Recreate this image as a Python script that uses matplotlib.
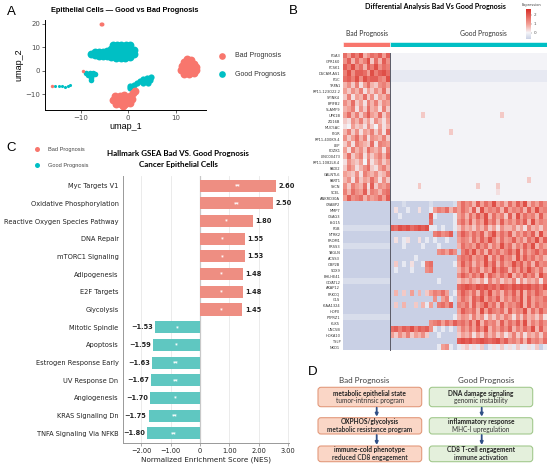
import matplotlib
matplotlib.use("Agg")
import numpy as np
import matplotlib.pyplot as plt
from matplotlib.colors import LinearSegmentedColormap, Normalize
from matplotlib.cm import ScalarMappable
from matplotlib.patches import FancyBboxPatch

W, H = 550, 471
RED = "#F8766D"
CYAN = "#00BFC4"
BAR_RED = "#EE8E82"
BAR_CYAN = "#5FC7C1"

# ---- A: UMAP embedding, point positions ----
good_main = [(-7.8, 7.2), (-7.0, 6.6), (-7.0, 8.0), (-6.1, 6.5), (-6.1, 8.1), (-5.2, 6.4),
             (-5.2, 8.2), (-4.4, 6.5), (-4.4, 8.4), (-3.6, 5.9), (-3.6, 7.7), (-3.6, 9.5),
             (-3.2, 10.8), (-2.6, 5.6), (-2.6, 7.5), (-2.6, 9.4), (-2.4, 11.0), (-1.6, 5.5),
             (-1.6, 7.4), (-1.6, 9.3), (-1.4, 11.1), (-0.6, 5.6), (-0.6, 7.5), (-0.6, 9.4),
             (-0.4, 11.2), (0.4, 5.9), (0.4, 7.7), (0.4, 9.5), (0.5, 10.8), (1.2, 7.2), (1.2, 8.8)]
good_left = [(-8.9, -1.0), (-8.1, -0.9), (-7.3, -1.1), (-6.9, -1.5), (-8.5, -1.9),
             (-7.6, -2.0), (-7.9, -3.0), (-7.8, -3.8)]
good_strip = [(-15.3, -6.7), (-14.6, -6.5), (-13.9, -6.6), (-13.3, -6.8), (-12.7, -6.5), (-12.2, -5.9)]
good_lower = [(4.8, -2.6), (3.9, -2.9), (3.1, -3.4), (4.6, -3.9), (3.6, -4.4), (2.6, -4.4),
              (4.2, -5.2), (1.9, -5.2), (1.2, -6.0), (0.5, -6.6), (0.3, -7.2), (3.2, -5.4)]
bad_tip = [(-5.8, 20.2), (-5.4, 19.9)]
bad_right = [(12.4, 5.2), (13.2, 4.6), (11.8, 3.6), (12.8, 3.4), (13.9, 3.0), (11.3, 2.0),
             (12.3, 1.8), (13.3, 1.7), (14.2, 1.5), (11.2, 0.3), (12.2, 0.0), (13.2, 0.1),
             (14.2, 0.2), (11.8, -1.2), (12.8, -1.3), (13.8, -1.1)]
bad_bottom = [(1.4, -8.5), (1.0, -9.6), (-2.8, -11.0), (-1.8, -10.6), (-0.8, -10.5), (0.3, -10.8),
              (-3.2, -12.6), (-2.2, -12.5), (-1.2, -12.4), (-0.2, -12.5), (0.9, -12.3),
              (-2.6, -14.2), (-1.6, -14.4), (-0.6, -14.3), (0.4, -14.0), (-1.0, -15.2)]
bad_small = [(-9.5, -0.2), (-16.0, -6.6)]

# ---- B: heatmap, 50 genes x (12 bad + 40 good) column bins ----
genes_bad_up = ["PGA3", "GPR160", "PCSK1", "DSCAM-AS1", "PGC", "TRPA1", "RP11-123O22.2", "SPINK4",
                "BPIFB2", "SLAMF9", "UPK1B", "ZG16B", "MUC5AC", "PIGR", "RP11-400K9.4", "LEP",
                "PDZK1", "LINC00473", "RP11-1082L8.4", "PADI2", "GALNTL6", "PART1", "SYCN",
                "SCEL", "ANKRD30A"]
genes_good_up = ["CRABP2", "MMP7", "CSAG3", "ISG15", "FGB", "NTRK2", "PROM1", "PRSS3", "TAGLN",
                 "ACSS3", "OBP2B", "SOX9", "BHLHE41", "GLYATL2", "AKAP12", "PRKCQ", "GLS",
                 "KIAA1324", "HOPX", "PTPRZ1", "KLK5", "UNC5B", "HOXA10", "TSLP", "NKD1"]
n_bad_cols, n_good_cols = 12, 40
# '.' ',' ':' below zero, '0' zero, digits d -> d*0.24
heat_rows = [
    "7486 9357 6848 | 0000000000 0000000000 0000000000 0000000000",
    "5837 4692 7385 | 0000000000 0000000000 0000000000 0000000000",
    "8695 7386 9576 | 0000000000 0000000000 0000000000 0000000000",
    "6958 8749 6897 | :::::::::: :::::::::: :::::::::: ::::::::::",
    "7869 5978 8659 | :::::::::: :::::::::: :::::::::: ::::::::::",
    "3526 1473 2564 | 0000000000 0000000000 0000000000 0000000000",
    "4253 6142 5372 | 0000000000 0000000000 0000000000 0000000000",
    "2614 3725 1436 | 0000000000 0000000000 0000000000 0000000000",
    "5372 4163 6254 | 0000000000 0000000000 0000000000 0000000000",
    "3461 5273 4162 | 0000000000 0000000000 0000000000 0000000000",
    "4736 2584 3725 | 0000000020 0000000000 0000000020 0000000000",
    "2153 6241 5314 | 0000000000 0000000000 0000000000 0000000000",
    "1042 3152 0413 | 0000000000 0000000000 0000000000 0000000000",
    "3625 1436 2517 | 0000000000 0000020000 0000000000 0000000000",
    "5247 3615 4362 | 0000000000 0000000000 0000000000 0000000000",
    "2516 4327 1654 | 0000000000 0000000000 0000000000 0000000000",
    "4163 5274 3516 | 0000000000 0000000000 0000000000 0000000000",
    "3724 6152 4637 | 0000000000 0000000000 0000000000 0000000000",
    "1532 4061 3524 | 0000000000 0000000000 0000000000 0000000000",
    "2641 3572 1463 | 0000000000 0000000000 0000000000 0000000000",
    "4325 1643 5236 | 0000000000 0000000000 0000000000 0000000000",
    "3516 2437 4152 | 0000000000 0000000000 0000000000 0000020000",
    "5264 3718 2546 | 0000000200 0000000000 0020000200 0000000000",
    "6375 4826 5367 | 0000000000 0000000000 0000000100 0000000000",
    "4856 7364 5748 | 0000000000 0000000000 0000000000 0000000000",
    ".... .... .... | ...,...... ,.....,475 6384759463 7485936475",
    ".... .... .... | .1..:..1.. :465736475 3829465738 4657384956",
    ".... .... .... | ..:....... 8:....:463 7485937462 8394756384",
    ".... .... .... | .......... 7.....:574 8364957384 6475839465",
    ",,,, ,,,, ,,,, | 8798978989 ::.:..:253 4253624153 3524163425",
    ".... .... .... | .......... .67568.586 4758369475 8364758394",
    ".... .... .... | .1.:1..1.: .:..:..465 3748596374 5846375948",
    ",,,, ,,,, ,,,, | ...:....:. ..:....375 6485736495 7364859364",
    ".... .... .... | .......... ..56475.68 5947385746 8593746857",
    ".... .... .... | ......:... .......576 8465937485 6394857463",
    ".... .... .... | .2.:.1..:6 7.....:485 7364958374 5968473856",
    ".... .... .... | .:...:...5 6......364 8573649587 3748596473",
    ".... .... .... | .......... .......586 4759386475 9364857396",
    ",,,, ,,,, ,,,, | .......... ..:....243 5324163524 3615243516",
    ".... .... .... | .......... .......789 8798978698 7989897869",
    ".... .... .... | .3.2.4.3.2 46574.:586 4738594637 5849375864",
    ".... .... .... | .......... .5.46:.475 3869475836 4759384657",
    ".... .... .... | .2.3..2.3: 4.6758.657 3846957384 6579384756",
    ".... .... .... | .......... .......486 5739486573 8465937485",
    ",,,, ,,,, ,,,, | .......... ......:354 2635142536 4152634251",
    ".... .... .... | .......... 5674758675 8493756384 7584936475",
    ".... .... .... | 7868796878 5:.:.:.364 7485936475 8364759384",
    ".... .... .... | 4253624352 ..:....243 5142635241 3625143526",
    ".... .... .... | .......... .......898 9789878968 5647385647",
    ".... .... .... | .......... ..:45:.:12 :1:2.:1:2: 1:2::1:2.:",
]
level_codes = {".": -0.7, ",": -0.45, ":": -0.2}

# ---- C: Hallmark GSEA ----
pathways = ["Myc Targets V1", "Oxidative Phosphorylation", "Reactive Oxygen Species Pathway",
            "DNA Repair", "mTORC1 Signaling", "Adipogenesis", "E2F Targets", "Glycolysis",
            "Mitotic Spindle", "Apoptosis", "Estrogen Response Early", "UV Response Dn",
            "Angiogenesis", "KRAS Signaling Dn", "TNFA Signaling Via NFKB"]
nes = [2.60, 2.50, 1.80, 1.55, 1.53, 1.48, 1.48, 1.45,
       -1.53, -1.59, -1.63, -1.67, -1.70, -1.75, -1.80]
signif = ["**", "**", "*", "*", "*", "*", "*", "*", "*", "*", "**", "**", "*", "**", "**"]
nes_ticks = [-2, -1, 0, 1, 2, 3]
nes_tick_labels = ["\u22122.00", "\u22121.00", "0", "1.00", "2.00", "3.00"]

# ---- D: schematic ----
bad_steps = [("metabolic epithelial state", "tumor-intrinsic program", False),
             ("OXPHOS/glycolysis", "metabolic resistance program", True),
             ("immune-cold phenotype", "reduced CD8 engagement", True)]
good_steps = [("DNA damage signaling", "genomic instability", False),
              ("inflammatory response", "MHC-I upregulation", False),
              ("CD8 T-cell engagement", "immune activation", True)]


def rect(x0, y0, x1, y1):
    return [x0 / W, 1 - y1 / H, (x1 - x0) / W, (y1 - y0) / H]


fig = plt.figure(figsize=(5.5, 4.71), dpi=100)

# ================= A =================
axA = fig.add_axes(rect(45, 20, 206, 110))
for pts, col, s in [(good_main, CYAN, 32), (good_left, CYAN, 16), (good_strip, CYAN, 5),
                    (good_lower, CYAN, 20), (bad_tip, RED, 8), (bad_right, RED, 32),
                    (bad_bottom, RED, 32), (bad_small, RED, 6)]:
    xs, ys = zip(*pts)
    axA.scatter(xs, ys, s=s, color=col, linewidths=0)
axA.set_xlim(-17.5, 16.4)
axA.set_ylim(-16.8, 21.7)
axA.set_xticks([-10, 0, 10])
axA.set_yticks([-10, 0, 10, 20])
for sp in ("top", "right"):
    axA.spines[sp].set_visible(False)
for sp in ("left", "bottom"):
    axA.spines[sp].set_linewidth(0.7)
axA.tick_params(labelsize=5, colors="#4d4d4d", length=2, width=0.6, pad=1.5)
axA.set_xlabel("umap_1", fontsize=6.5, family="Liberation Sans", labelpad=1)
axA.set_ylabel("umap_2", fontsize=6.5, family="Liberation Sans", labelpad=1)

# ================= B =================
mat = []
for row in heat_rows:
    chars = row.replace(" ", "").replace("|", "")
    assert len(chars) == n_bad_cols + n_good_cols, row
    mat.append([level_codes[c] if c in level_codes else int(c) * 0.24 for c in chars])
mat = np.array(mat)

cmap = LinearSegmentedColormap.from_list(
    "expr", [(0.0, "#c7cfe4"), (0.222, "#f4f4f8"), (0.5, "#f3a197"), (1.0, "#d8302a")])
norm = Normalize(vmin=-0.75, vmax=2.63)

axB = fig.add_axes(rect(343, 52.7, 546.7, 350.5))
ncols = n_bad_cols + n_good_cols
genes = genes_bad_up + genes_good_up
axB.imshow(mat, aspect="auto", cmap=cmap, norm=norm, interpolation="nearest",
           extent=(0, ncols, len(genes), 0))
axB.axvline(n_bad_cols, color="#5a5a66", lw=0.7)
axB.set_xticks([])
axB.set_yticks(np.arange(len(genes)) + 0.5)
axB.set_yticklabels(genes, fontsize=2.6, color="#333333")
axB.tick_params(axis="y", length=0, pad=2)
for sp in axB.spines.values():
    sp.set_visible(False)

axAnn = fig.add_axes(rect(343, 41.7, 546.7, 47.3))
axAnn.barh(0, n_bad_cols, color=RED, height=1, edgecolor="white", linewidth=0.4)
axAnn.barh(0, n_good_cols, left=n_bad_cols, color=CYAN, height=1, edgecolor="white", linewidth=0.4)
axAnn.set_xlim(0, ncols)
axAnn.set_ylim(-0.5, 0.5)
axAnn.axis("off")

axCb = fig.add_axes(rect(525.7, 9.3, 530.7, 39.3))
cb = fig.colorbar(ScalarMappable(norm=norm, cmap=cmap), cax=axCb)
cb.set_ticks([0, 1, 2])
cb.ax.tick_params(labelsize=3, length=1, width=0.3, pad=1, colors="#555555")
cb.outline.set_visible(False)

# ================= C =================
axC = fig.add_axes(rect(122.7, 175.7, 288.7, 443.3))
ypos = np.arange(len(pathways))
cols = [BAR_RED if v > 0 else BAR_CYAN for v in nes]
for t in nes_ticks:
    axC.axvline(t, color="#e8e8e8", lw=0.6, zorder=0)
axC.axvline(0, color="#c8c8c8", lw=0.9, zorder=1)
axC.barh(ypos, nes, height=0.68, color=cols, zorder=2)
for i, (v, s) in enumerate(zip(nes, signif)):
    axC.text(v / 2, i, s, color="white", fontsize=4, ha="center", va="center",
             fontweight="bold", zorder=3)
    if v > 0:
        axC.text(v + 0.08, i, f"{v:.2f}", ha="left", va="center", fontsize=4.8,
                 fontweight="bold", color="#222222")
    else:
        axC.text(v - 0.08, i, f"\u2212{abs(v):.2f}", ha="right", va="center", fontsize=4.8,
                 fontweight="bold", color="#222222")
axC.set_xlim(-2.64, 3.03)
axC.set_ylim(len(pathways) - 0.44, -0.56)
axC.set_yticks(ypos)
axC.set_yticklabels(pathways, fontsize=4.8, color="#222222")
axC.set_xticks(nes_ticks)
axC.set_xticklabels(nes_tick_labels, fontsize=4.8, color="#222222")
axC.tick_params(axis="y", length=0, pad=3)
axC.tick_params(axis="x", length=2, width=0.5, pad=1.5, color="#888888")
for sp in ("top", "right"):
    axC.spines[sp].set_visible(False)
for sp in ("left", "bottom"):
    axC.spines[sp].set_color("#999999")
    axC.spines[sp].set_linewidth(0.7)
axC.set_xlabel("Normalized Enrichment Score (NES)", fontsize=5.2, color="#222222", labelpad=2)

# ================= overlay: labels, legends, panel D =================
ov = fig.add_axes([0, 0, 1, 1])
ov.set_xlim(0, W)
ov.set_ylim(H, 0)
ov.axis("off")

for lab, x, y in [("A", 11, 12), ("B", 293, 11), ("C", 11, 148), ("D", 313, 372)]:
    ov.text(x, y, lab, fontsize=9.5, family="Liberation Sans", ha="center", va="center")

ov.text(125, 11, "Epithelial Cells \u2014 Good vs Bad Prognosis", fontsize=5.3,
        family="Liberation Sans", fontweight="bold", ha="center", va="center")
for y, col, lab in [(55.7, RED, "Bad Prognosis"), (74.3, CYAN, "Good Prognosis")]:
    ov.plot(221.7, y, "o", ms=4.8, color=col, mec="none")
    ov.text(235, y, lab, fontsize=5, family="Liberation Sans", color="#333333", va="center")

ov.text(435, 7, "Differential Analysis Bad Vs Good Prognosis", fontsize=5.1, family="Lato",
        fontweight="bold", ha="center", va="center")
ov.text(367, 33.5, "Bad Prognosis", fontsize=4.9, family="Lato", color="#333333",
        ha="center", va="center")
ov.text(483, 33.5, "Good Prognosis", fontsize=4.9, family="Lato", color="#333333",
        ha="center", va="center")
ov.text(531, 4.8, "Expression", fontsize=2.6, color="#444444", ha="center", va="center")

for y, col, lab in [(149, RED, "Bad Prognosis"), (165, CYAN, "Good Prognosis")]:
    ov.plot(37.3, y, "o", ms=3.6, color=col, mec="none")
    ov.text(48, y, lab, fontsize=4.1, family="Liberation Sans", color="#444444", va="center")
ov.text(178, 153.3, "Hallmark GSEA Bad VS. Good Prognosis", fontsize=5.8, family="Lato",
        fontweight="bold", ha="center", va="center")
ov.text(178, 164.3, "Cancer Epithelial Cells", fontsize=5.8, family="Lato",
        fontweight="bold", ha="center", va="center")

# panel D
box_rows = [(387.3, 406.7), (417.7, 434.0), (446.0, 461.7)]
columns = [(318.0, 421.7, "#fad6c6", "#e39a7c", bad_steps, "Bad Prognosis", 364, 376.7),
           (429.3, 532.7, "#e4f0dc", "#a3c98e", good_steps, "Good Prognosis", 486, 481.7)]
for x0, x1, fc, ec, steps, head, hx, ax_x in columns:
    ov.text(hx, 380.7, head, fontsize=5.8, family="Lato", color="#404040",
            ha="center", va="center")
    cx = (x0 + x1) / 2
    for (y0, y1), (l1, l2, bold2) in zip(box_rows, steps):
        ov.add_patch(FancyBboxPatch((x0, y0), x1 - x0, y1 - y0,
                                    boxstyle="round,pad=0,rounding_size=3",
                                    fc=fc, ec=ec, lw=0.8))
        ym = (y0 + y1) / 2
        ov.text(cx, ym - 3.9, l1, fontsize=4.7, family="Lato", fontweight="bold",
                color="#222222", ha="center", va="center")
        ov.text(cx, ym + 3.9, l2, fontsize=4.7, family="Lato",
                fontweight="bold" if bold2 else "normal", color="#333333",
                ha="center", va="center")
    for (a, b) in [(box_rows[0][1] + 1, box_rows[1][0] - 1), (box_rows[1][1] + 1, box_rows[2][0] - 1)]:
        ov.annotate("", xy=(ax_x, b), xytext=(ax_x, a),
                    arrowprops=dict(arrowstyle="-|>", color="#2f4f86", lw=1.3,
                                    mutation_scale=4, shrinkA=0, shrinkB=0))

fig.savefig("out.png", dpi=100)
